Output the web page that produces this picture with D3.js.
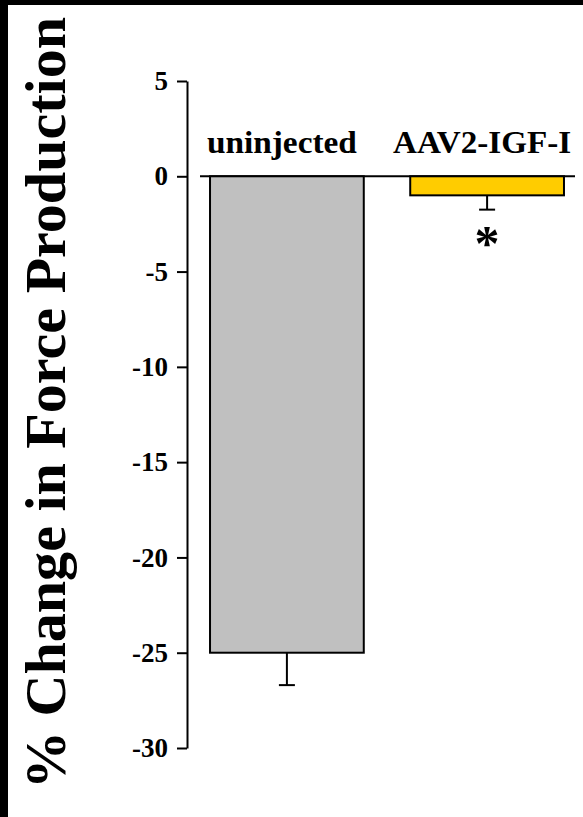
<!DOCTYPE html>
<html><head><meta charset="utf-8">
<script src="https://cdn.jsdelivr.net/npm/d3@7"></script>
<style>html,body{margin:0;padding:0;background:#000;}svg{display:block;}</style>
</head><body>
<script>
const categories = ["uninjected", "AAV2-IGF-I"];
const values = [-25, -1.0];
const errors = [1.7, 0.75];
const colors = ["#C0C0C0", "#FFCC00"];
const tickValues = [5, 0, -5, -10, -15, -20, -25, -30];
const tickLabels = ["5", "0", "-5", "-10", "-15", "-20", "-25", "-30"];
const yTitle = "% Change in Force Production";
const sigMarks = ["", "*"];

const W = 583, H = 817;
const svg = d3.select("body").append("svg").attr("width", W).attr("height", H);
svg.append("rect").attr("width", W).attr("height", H).attr("fill", "#000");
svg.append("rect").attr("x", 8).attr("y", 5).attr("width", W - 8).attr("height", H - 5).attr("fill", "#fff");

const font = "'Liberation Serif','Times New Roman',serif";
const y = d3.scaleLinear().domain([5, -30]).range([81, 748]);
const x = d3.scaleBand().domain(categories).range([187, 587]).paddingInner(0.232).paddingOuter(0.115);

// y axis
const ax = svg.append("g").attr("transform", "translate(187,0)")
  .call(d3.axisLeft(y).tickValues(tickValues).tickSize(10).tickSizeOuter(0).tickPadding(9)
    .tickFormat((d, i) => tickLabels[i]));
ax.select(".domain").attr("stroke", "#000").attr("stroke-width", 2);
ax.selectAll(".tick line").attr("stroke", "#000").attr("stroke-width", 2);
ax.selectAll(".tick text").attr("font-family", font).attr("font-weight", "bold").attr("font-size", 27).attr("fill", "#000");

// zero baseline
svg.append("line").attr("x1", 200).attr("x2", 575).attr("y1", y(0)).attr("y2", y(0))
  .attr("stroke", "#000").attr("stroke-width", 2);

// bars
svg.selectAll("rect.bar").data(categories).enter().append("rect").attr("class", "bar")
  .attr("x", d => x(d)).attr("width", x.bandwidth())
  .attr("y", (d, i) => y(Math.max(0, values[i])))
  .attr("height", (d, i) => Math.abs(y(values[i]) - y(0)))
  .attr("fill", (d, i) => colors[i]).attr("stroke", "#000").attr("stroke-width", 2);

// error bars
categories.forEach((c, i) => {
  const cx = x(c) + x.bandwidth() / 2;
  const y0 = y(values[i]), y1 = y(values[i] - errors[i]);
  svg.append("line").attr("x1", cx).attr("x2", cx).attr("y1", y0).attr("y2", y1).attr("stroke", "#000").attr("stroke-width", 2);
  svg.append("line").attr("x1", cx - 8).attr("x2", cx + 8).attr("y1", y1).attr("y2", y1).attr("stroke", "#000").attr("stroke-width", 2);
  if (sigMarks[i]) {
    svg.append("text").attr("x", cx).attr("y", y1 + 50).attr("text-anchor", "middle")
      .attr("font-family", font).attr("font-weight", "bold").attr("font-size", 50).text(sigMarks[i]);
  }
  svg.append("text").attr("x", cx - 5).attr("y", 153).attr("text-anchor", "middle")
    .attr("font-family", font).attr("font-weight", "bold").attr("font-size", 32)
    .attr("textLength", i === 0 ? 150 : 178).attr("lengthAdjust", "spacingAndGlyphs").text(c);
});

// y title
svg.append("text").attr("transform", "translate(65,403) rotate(-90)").attr("text-anchor", "middle")
  .attr("font-family", font).attr("font-weight", "bold").attr("font-size", 58)
  .attr("textLength", 772).attr("lengthAdjust", "spacingAndGlyphs").text(yTitle);
</script>
</body></html>
